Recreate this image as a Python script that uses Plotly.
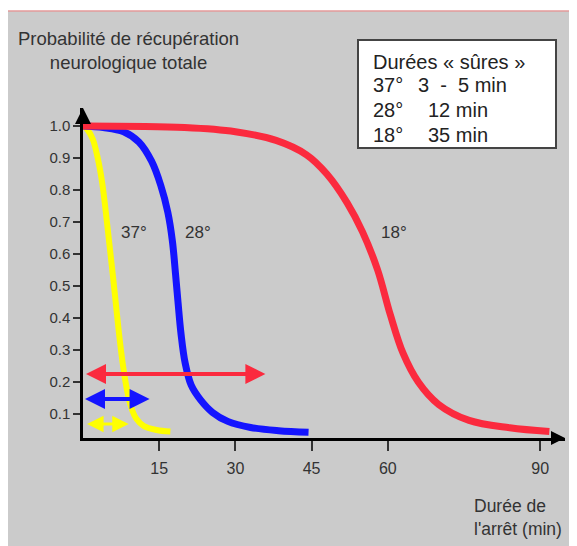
import plotly.graph_objects as go

# ---------------- data ----------------
minutes_37 = [0, 0.8, 1.9, 2.9, 3.8, 4.5, 5.2, 5.9, 6.5, 7.1, 7.8, 8.6, 9.5, 10.5, 12.0, 14.5, 17.2]
prob_37 = [1.0, 0.99, 0.96, 0.9, 0.82, 0.73, 0.63, 0.53, 0.44, 0.35, 0.26, 0.18, 0.12, 0.085, 0.062,
           0.05, 0.045]

minutes_28 = [0, 4.0, 8.0, 11.0, 13.5, 15.3, 16.7, 17.6, 18.2, 18.7, 19.3, 20.1, 21.3, 23.1, 25.5,
              28.5, 33.0, 38.5, 44.4]
prob_28 = [1.0, 0.995, 0.982, 0.95, 0.89, 0.815, 0.73, 0.64, 0.54, 0.45, 0.35, 0.26, 0.19, 0.145,
           0.105, 0.077, 0.058, 0.048, 0.043]

minutes_18 = [0, 20.0, 30.0, 38.0, 44.0, 48.0, 52.0, 55.0, 58.0, 60.5, 63.0, 66.0, 70.0, 76.0, 84.0, 91.8]
prob_18 = [1.0, 0.995, 0.982, 0.955, 0.91, 0.85, 0.76, 0.67, 0.55, 0.41, 0.29, 0.2, 0.13, 0.08,
           0.057, 0.045]

series_names = ["37°", "28°", "18°"]
label_minutes = [10.1, 22.7, 61.3]
label_prob = [0.666, 0.666, 0.666]

# "safe duration" double arrows: start, end (min), level
arrow_start = [0.5, 0.1, 0.3]
arrow_end = [9.0, 13.1, 35.9]
arrow_level = [0.069, 0.147, 0.225]

x_tick_vals = [15, 30, 45, 60, 90]
y_tick_vals = [0.1, 0.2, 0.3, 0.4, 0.5, 0.6, 0.7, 0.8, 0.9, 1.0]
y_tick_text = ["0.1", "0.2", "0.3", "0.4", "0.5", "0.6", "0.7", "0.8", "0.9", "1.0"]

box_left_col = ["Durées « sûres »", "37°", "28°", "18°"]
box_right_col = ["", "3\u00a0\u00a0-\u00a0\u00a05 min", "12 min", "35 min"]

# ---------------- styling / layout ----------------
RED = "#fb2a3e"
BLUE = "#1414ff"
YELLOW = "#ffff00"
colors = [YELLOW, BLUE, RED]
widths = [6, 7, 7]
arrow_w = [3, 4, 4]
arrow_s = [1.1, 1.0, 1.0]

FONT = "Liberation Sans, Arial, sans-serif"
TXT = "#333333"

# page body has an 8px margin: the figure is placed at (8, 8) in the window
OFF = 8
W, H = 577 - OFF, 546 - OFF
L, R, T, B = 83 - OFF, 12, 108 - OFF, 108
PW, PH = W - L - R, H - T - B
XSCALE = 5.08
X_MAX = PW / XSCALE
Y_MIN, Y_MAX = 0.025, 1.05625

# box row positions (window pixels)
box_row_y = [62, 85, 110, 135]
box_left_x = 371
box_right_x = [0, 416, 426, 426]


def px(x):
    # window pixel -> paper coordinate
    return (x - OFF - L) / PW


def py(y):
    return 1 - (y - OFF - T) / PH


fig = go.Figure()

curves = [(minutes_37, prob_37), (minutes_28, prob_28), (minutes_18, prob_18)]
for (xs, ys), c, w, n in zip(curves, colors, widths, series_names):
    fig.add_trace(go.Scatter(x=xs, y=ys, mode="lines", name=n,
                             line=dict(color=c, width=w, shape="spline", smoothing=1.0),
                             hoverinfo="skip"))

# axis arrow heads
fig.add_trace(go.Scatter(x=[0], y=[Y_MAX], mode="markers", cliponaxis=False,
                         marker=dict(symbol="arrow-up", size=16, color="black",
                                     line=dict(width=0)), hoverinfo="skip"))
fig.add_trace(go.Scatter(x=[X_MAX], y=[Y_MIN], mode="markers", cliponaxis=False,
                         marker=dict(symbol="arrow-right", size=14, color="black",
                                     line=dict(width=0)), hoverinfo="skip"))

annotations = []
# double arrows
for s, e, lv, c, aw, asz in zip(arrow_start, arrow_end, arrow_level, colors, arrow_w, arrow_s):
    annotations.append(dict(x=e, y=lv, ax=s, ay=lv, xref="x", yref="y", axref="x", ayref="y",
                            text="", showarrow=True, arrowhead=2, startarrowhead=2,
                            arrowside="end+start", arrowwidth=aw, arrowsize=asz,
                            startarrowsize=asz, arrowcolor=c))
# curve labels
for n, lx, ly in zip(series_names, label_minutes, label_prob):
    annotations.append(dict(x=lx, y=ly, xref="x", yref="y", text=n, showarrow=False,
                            font=dict(family=FONT, size=17, color=TXT)))
# y title
annotations.append(dict(x=px(128), y=py(51), xref="paper", yref="paper",
                        text="Probabilité de récupération<br>neurologique totale",
                        showarrow=False, xanchor="center", yanchor="middle", align="center",
                        font=dict(family=FONT, size=18.5, color=TXT)))
# x title
annotations.append(dict(x=px(472), y=py(517), xref="paper", yref="paper",
                        text="Durée de<br>l'arrêt (min)", showarrow=False,
                        xanchor="left", yanchor="middle", align="left",
                        font=dict(family=FONT, size=17.5, color=TXT)))
# box texts
for ry, lt, rt, rx in zip(box_row_y, box_left_col, box_right_col, box_right_x):
    annotations.append(dict(x=px(box_left_x), y=py(ry), xref="paper", yref="paper",
                            text=lt, showarrow=False, xanchor="left", yanchor="middle",
                            font=dict(family=FONT, size=20, color="#222222")))
    if rt:
        annotations.append(dict(x=px(rx), y=py(ry), xref="paper", yref="paper",
                                text=rt, showarrow=False, xanchor="left", yanchor="middle",
                                font=dict(family=FONT, size=20, color="#222222")))

shapes = [
    # gray panel with pink border
    dict(type="rect", xref="paper", yref="paper", layer="below",
         x0=px(7), x1=px(577 + 10), y0=py(546 + 10), y1=py(11),
         fillcolor="#cbcbcb", line=dict(color="#e39a9a", width=1.5)),
    # legend box
    dict(type="rect", xref="paper", yref="paper",
         x0=px(358), x1=px(556), y0=py(148), y1=py(40),
         fillcolor="white", line=dict(color="#444444", width=2)),
]

fig.update_layout(
    width=W, height=H, autosize=False,
    margin=dict(l=L, r=R, t=T, b=B, pad=0),
    paper_bgcolor="white", plot_bgcolor="rgba(0,0,0,0)",
    showlegend=False,
    annotations=annotations, shapes=shapes,
    xaxis=dict(range=[0, X_MAX], showgrid=False, zeroline=False,
               showline=True, linecolor="black", linewidth=2.5,
               tickvals=x_tick_vals, ticks="outside", ticklen=10, tickwidth=1.5,
               tickcolor="#333333", ticklabelstandoff=4,
               tickfont=dict(family=FONT, size=16, color=TXT)),
    yaxis=dict(range=[Y_MIN, Y_MAX], showgrid=False, zeroline=False,
               showline=True, linecolor="black", linewidth=2.5,
               tickvals=y_tick_vals, ticktext=y_tick_text, ticks="outside",
               ticklen=7, tickwidth=1.5, tickcolor="#333333",
               tickfont=dict(family=FONT, size=15, color=TXT)),
)

fig.write_html("out.html")
